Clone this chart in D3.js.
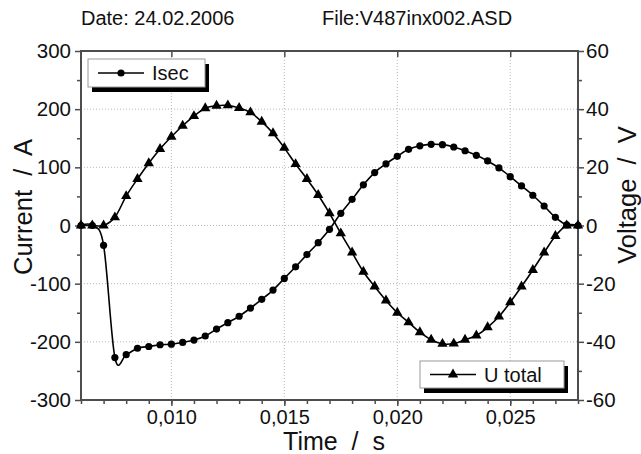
<!DOCTYPE html>
<html>
<head>
<meta charset="utf-8">
<script src="https://cdn.jsdelivr.net/npm/d3@7"></script>
<style>
  body { margin: 0; background: #fff; }
  svg { display: block; font-family: "Liberation Sans", Arial, sans-serif; }
</style>
</head>
<body>
<div id="chart"></div>
<script>
// time in s, one sample every 0.5 ms
const time = [0.006, 0.0065, 0.007, 0.0075, 0.008, 0.0085, 0.009, 0.0095, 0.010, 0.0105,
  0.011, 0.0115, 0.012, 0.0125, 0.013, 0.0135, 0.014, 0.0145, 0.015, 0.0155,
  0.016, 0.0165, 0.017, 0.0175, 0.018, 0.0185, 0.019, 0.0195, 0.020, 0.0205,
  0.021, 0.0215, 0.022, 0.0225, 0.023, 0.0235, 0.024, 0.0245, 0.025, 0.0255,
  0.026, 0.0265, 0.027, 0.0275, 0.028];

// Isec, A (left axis)
const isec = [0, 0, -34, -227, -222, -211, -208, -205, -204, -201,
  -197, -190, -178, -167, -156, -142, -127, -111, -91, -71,
  -50, -29.5, -6.5, 21, 45, 70, 91, 106, 119, 131,
  137, 139.5, 139, 135, 128.5, 120.6, 111, 99, 84, 68,
  52, 33.5, 14, 1, 0];

// U total, V (right axis)
const uTotal = [0, 0, 0, 2.8, 10.1, 16, 21.4, 26.3, 30.5, 34.3,
  37.6, 40.3, 41.2, 41.3, 40.4, 38.9, 35.7, 31.7, 26.7, 21.1,
  16.0, 10.5, 4.2, -2.7, -9.3, -15.9, -21, -25.8, -30, -33.3,
  -36.7, -39.3, -40.7, -40.6, -39.3, -37.8, -35, -31.3, -26.4, -21,
  -15.3, -9.3, -3.6, 0, 0];

const xTicks = [0.010, 0.015, 0.020, 0.025];
const yLeftTicks = [-300, -200, -100, 0, 100, 200, 300];
const yRightTicks = [-60, -40, -20, 0, 20, 40, 60];

const W = 641, H = 454;
const pLeft = 81, pRight = 578, pTop = 51, pBottom = 400;

const svg = d3.select("#chart").append("svg")
  .attr("width", W)
  .attr("height", H);

const x = d3.scaleLinear().domain([0.006, 0.028]).range([pLeft, pRight]);
const yL = d3.scaleLinear().domain([-300, 300]).range([pBottom, pTop]);
const yR = d3.scaleLinear().domain([-60, 60]).range([pBottom, pTop]);

// grid
const grid = svg.append("g")
  .attr("stroke", "#b8b8b8")
  .attr("stroke-width", 1)
  .attr("stroke-dasharray", "1,2");
grid.selectAll("line.vx").data(xTicks).join("line")
  .attr("x1", d => x(d)).attr("x2", d => x(d))
  .attr("y1", pTop).attr("y2", pBottom);
grid.selectAll("line.hy").data(yLeftTicks.slice(1, -1)).join("line")
  .attr("x1", pLeft).attr("x2", pRight)
  .attr("y1", d => yL(d)).attr("y2", d => yL(d));

const fmtX = d => d3.format(".3f")(d).replace(".", ",");
const fmtY = d => String(d);   // plain hyphen minus like the original
const axisColor = "#4d4d4d";

function styleAxis(g, fontSize) {
  g.select(".domain").remove();
  g.selectAll(".tick line").attr("stroke", axisColor).attr("stroke-width", 1.5);
  g.selectAll(".tick text")
    .attr("fill", "#111")
    .style("font-size", fontSize + "px");
}

// minor ticks
svg.append("g")
  .attr("transform", `translate(0,${pBottom})`)
  .call(d3.axisBottom(x).tickValues(d3.range(0.006, 0.0281, 0.001)).tickSize(4).tickFormat(""))
  .call(g => styleAxis(g, 0));
svg.append("g")
  .attr("transform", `translate(${pLeft},0)`)
  .call(d3.axisLeft(yL).tickValues(d3.range(-250, 300, 100)).tickSize(4).tickFormat(""))
  .call(g => styleAxis(g, 0));
svg.append("g")
  .attr("transform", `translate(${pRight},0)`)
  .call(d3.axisRight(yR).tickValues(d3.range(-50, 60, 20)).tickSize(4).tickFormat(""))
  .call(g => styleAxis(g, 0));

// major ticks + labels
svg.append("g")
  .attr("transform", `translate(0,${pBottom})`)
  .call(d3.axisBottom(x).tickValues(xTicks).tickSize(6).tickPadding(4).tickFormat(fmtX))
  .call(g => styleAxis(g, 20));
svg.append("g")
  .attr("transform", `translate(0,${pTop})`)
  .call(d3.axisBottom(x).tickValues(xTicks).tickSize(6).tickFormat(""))
  .call(g => styleAxis(g, 0));
svg.append("g")
  .attr("transform", `translate(${pLeft},0)`)
  .call(d3.axisLeft(yL).tickValues(yLeftTicks).tickSize(6).tickPadding(4).tickFormat(fmtY))
  .call(g => styleAxis(g, 20.5));
svg.append("g")
  .attr("transform", `translate(${pRight},0)`)
  .call(d3.axisRight(yR).tickValues(yRightTicks).tickSize(6).tickPadding(2).tickFormat(fmtY))
  .call(g => styleAxis(g, 20.5));

// frame
svg.append("rect")
  .attr("x", pLeft).attr("y", pTop)
  .attr("width", pRight - pLeft).attr("height", pBottom - pTop)
  .attr("fill", "none")
  .attr("stroke", axisColor)
  .attr("stroke-width", 2);

// series
const curve = d3.curveCatmullRom.alpha(0);
const lineI = d3.line().x((d, i) => x(time[i])).y(d => yL(d)).curve(curve);
const lineU = d3.line().x((d, i) => x(time[i])).y(d => yR(d)).curve(curve);

svg.append("path").datum(uTotal)
  .attr("d", lineU).attr("fill", "none").attr("stroke", "#000").attr("stroke-width", 1.6);
svg.append("path").datum(isec)
  .attr("d", lineI).attr("fill", "none").attr("stroke", "#000").attr("stroke-width", 1.6);

const tri = d3.symbol(d3.symbolTriangle, 46);
svg.append("g").selectAll("path").data(uTotal).join("path")
  .attr("d", tri)
  .attr("transform", (d, i) => `translate(${x(time[i])},${yR(d)})`)
  .attr("fill", "#000");

svg.append("g").selectAll("circle").data(isec).join("circle")
  .attr("cx", (d, i) => x(time[i]))
  .attr("cy", d => yL(d))
  .attr("r", 3.6)
  .attr("fill", "#000");

// legends
function legend(lx, ly, w, h, label, marker) {
  const g = svg.append("g").attr("transform", `translate(${lx},${ly})`);
  g.append("rect").attr("x", 4).attr("y", 5).attr("width", w).attr("height", h).attr("fill", "#000");
  g.append("rect").attr("x", 0).attr("y", 0).attr("width", w).attr("height", h)
    .attr("fill", "#fff").attr("stroke", "#999").attr("stroke-width", 1);
  g.append("line").attr("x1", 10).attr("x2", 56).attr("y1", h / 2).attr("y2", h / 2)
    .attr("stroke", "#000").attr("stroke-width", 1.6);
  if (marker === "circle") {
    g.append("circle").attr("cx", 33).attr("cy", h / 2).attr("r", 3.6).attr("fill", "#000");
  } else {
    g.append("path").attr("d", tri).attr("transform", `translate(33,${h / 2})`).attr("fill", "#000");
  }
  g.append("text").attr("x", 64).attr("y", h / 2 + 7)
    .style("font-size", "20px").attr("fill", "#111").text(label);
}
legend(88, 59, 117, 28, "Isec", "circle");
legend(420, 361, 144, 27, "U total", "triangle");

// titles
svg.append("text").attr("x", 81).attr("y", 25)
  .style("font-size", "20px").attr("fill", "#111").text("Date: 24.02.2006");
svg.append("text").attr("x", 322).attr("y", 25)
  .style("font-size", "20px").attr("fill", "#111").text("File:V487inx002.ASD");

svg.append("text")
  .attr("x", 334).attr("y", 450)
  .attr("text-anchor", "middle")
  .style("font-size", "25px").style("white-space", "pre").attr("fill", "#111")
  .text("Time  /  s");
svg.append("text")
  .attr("transform", "translate(32,207) rotate(-90)")
  .attr("text-anchor", "middle")
  .style("font-size", "25.5px").style("white-space", "pre").attr("fill", "#111")
  .text("Current  /  A");
svg.append("text")
  .attr("transform", "translate(636,195) rotate(-90)")
  .attr("text-anchor", "middle")
  .style("font-size", "25.5px").style("white-space", "pre").attr("fill", "#111")
  .text("Voltage  /  V");
</script>
</body>
</html>
